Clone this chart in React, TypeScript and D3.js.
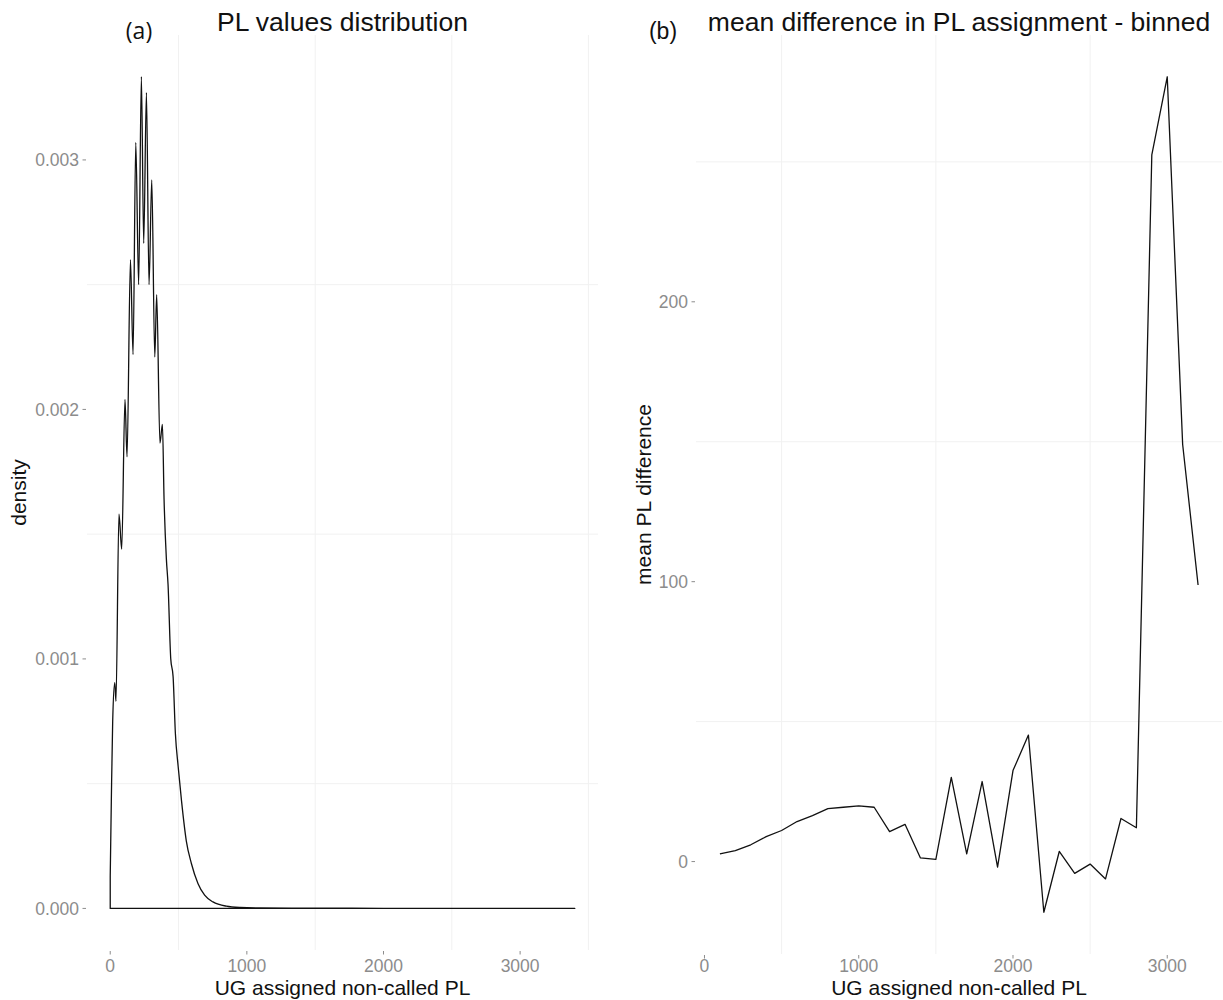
import React, { useEffect } from "react";
import * as d3 from "d3";

// ---------- data ----------
// (a) density of UG assigned non-called PL
const densityX = [0, 8, 18, 33, 42, 64, 84, 108, 123, 148, 167, 187, 208, 228, 245, 265, 284, 304, 326, 340, 364, 382, 394, 411, 423, 443, 460, 477, 497, 522, 557, 594, 642, 691, 752, 850, 950, 1100, 1500, 2000, 2500, 3000, 3400];
const densityY = [0.00013, 0.00043, 0.00075, 0.000905, 0.00083, 0.00158, 0.00144, 0.00204, 0.00181, 0.0026, 0.00222, 0.00307, 0.0025, 0.003334, 0.002666, 0.00327, 0.0025, 0.00292, 0.00221, 0.00246, 0.001865, 0.00194, 0.00164, 0.0014, 0.0013, 0.001, 0.00093, 0.0007, 0.00057, 0.00043, 0.00027, 0.00018, 0.0001, 0.000053, 0.000026, 0.000009, 0.000004, 0.000002, 0.000001, 0.0000005, 0.0000005, 0.0000003, 0.0000002];

// (b) mean PL difference per bin
const binX = [100, 200, 300, 400, 500, 600, 700, 800, 900, 1000, 1100, 1200, 1300, 1400, 1500, 1600, 1700, 1800, 1900, 2000, 2100, 2200, 2300, 2400, 2500, 2600, 2700, 2800, 2900, 3000, 3100, 3200];
const binMean = [2.75, 3.9, 6.0, 8.9, 11.1, 14.3, 16.4, 18.9, 19.4, 19.9, 19.4, 10.7, 13.3, 1.3, 0.8, 30.1, 2.75, 28.6, -2.0, 32.5, 45.2, -18.1, 3.6, -4.2, -0.9, -6.2, 15.4, 12.1, 252.5, 280.4, 149, 98.8];

// ticks and grid
const leftXTicks = [0, 1000, 2000, 3000];
const leftYTicks = [0, 0.001, 0.002, 0.003];
const leftXMinor = [500, 1500, 2500, 3500];
const leftYMinor = [0.0005, 0.0015, 0.0025];
const rightXTicks = [0, 1000, 2000, 3000];
const rightYTicks = [0, 100, 200];
const rightXMinor = [500, 1500, 2500];
const rightYMinor = [50, 150, 250];

const titleA = "PL values distribution";
const titleB = "mean difference in PL assignment - binned";
const xTitle = "UG assigned non-called PL";
const yTitleA = "density";
const yTitleB = "mean PL difference";

const FONT = "'Liberation Sans', Arial, Helvetica, sans-serif";
const TICK_COL = "#8c8c8c";
const GRID_COL = "#f1f1f1";

function expand(ext: [number, number], f = 0.05): [number, number] {
  const d = (ext[1] - ext[0]) * f;
  return [ext[0] - d, ext[1] + d];
}

type PanelProps = {
  xs: d3.ScaleLinear<number, number>;
  ys: d3.ScaleLinear<number, number>;
  xTicks: number[];
  yTicks: number[];
  xMinor: number[];
  yMinor: number[];
  yFmt: (v: number) => string;
  title: string;
  yTitle: string;
  yTitleX: number;
  tag: string;
  tagX: number;
  tagFont: string;
  path: string;
};

function Panel(p: PanelProps) {
  const [x0, x1] = p.xs.range();
  const [yb, yt] = p.ys.range();
  const cx = (x0 + x1) / 2;
  const cy = (yb + yt) / 2;
  return (
    <g>
      {p.yMinor.map((v) => (
        <line key={"gy" + v} x1={x0} x2={x1} y1={p.ys(v)} y2={p.ys(v)} stroke={GRID_COL} strokeWidth={1} />
      ))}
      {p.xMinor.map((v) => (
        <line key={"gx" + v} x1={p.xs(v)} x2={p.xs(v)} y1={yt} y2={yb} stroke={GRID_COL} strokeWidth={1} />
      ))}
      <path d={p.path} fill="none" stroke="#111" strokeWidth={1.3} strokeLinejoin="round" />
      {p.yTicks.map((v) => (
        <g key={"ty" + v}>
          <line x1={x0 - 4.5} x2={x0 - 1} y1={p.ys(v)} y2={p.ys(v)} stroke={TICK_COL} strokeWidth={1} />
          <text x={x0 - 8} y={p.ys(v)} dy="0.36em" textAnchor="end" fontSize={17.5} fill={TICK_COL} fontFamily={FONT}>
            {p.yFmt(v)}
          </text>
        </g>
      ))}
      {p.xTicks.map((v) => (
        <g key={"tx" + v}>
          <line x1={p.xs(v)} x2={p.xs(v)} y1={yb + 1} y2={yb + 4.5} stroke={TICK_COL} strokeWidth={1} />
          <text x={p.xs(v)} y={972} textAnchor="middle" fontSize={17.5} fill={TICK_COL} fontFamily={FONT}>
            {String(v)}
          </text>
        </g>
      ))}
      <text x={cx} y={995} textAnchor="middle" fontSize={21} fill="#111" fontFamily={FONT}>
        {xTitle}
      </text>
      <text
        transform={`translate(${p.yTitleX},${cy}) rotate(-90)`}
        textAnchor="middle"
        fontSize={21}
        fill="#111"
        fontFamily={FONT}
      >
        {p.yTitle}
      </text>
      <text x={cx} y={31} textAnchor="middle" fontSize={26.5} fill="#111" fontFamily={FONT}>
        {p.title}
      </text>
      <text x={p.tagX} y={39} textAnchor="middle" fontSize={23} fill="#111" fontFamily={p.tagFont}>
        {p.tag}
      </text>
    </g>
  );
}

export default function App() {
  useEffect(() => {
    document.body.style.margin = "0";
  }, []);

  // ----- panel (a) -----
  const xa = d3
    .scaleLinear()
    .domain(expand(d3.extent(densityX) as [number, number]))
    .range([87, 598]);
  const ya = d3
    .scaleLinear()
    .domain(expand([0, d3.max(densityY) as number]))
    .range([950, 35]);
  const pts: [number, number][] = densityX.map((x, i) => [x, densityY[i]]);
  const lineA = d3
    .line<[number, number]>()
    .x((d) => xa(d[0]))
    .y((d) => ya(d[1]))
    .curve(d3.curveMonotoneX);
  const xMin = densityX[0];
  const xMax = densityX[densityX.length - 1];
  const curveStr = (lineA(pts) || "").replace(/^M/, "L");
  const pathA = `M${xa(xMin)},${ya(0)}${curveStr}L${xa(xMax)},${ya(0)}Z`;

  // ----- panel (b) -----
  const xb = d3
    .scaleLinear()
    .domain(expand(d3.extent(binX) as [number, number]))
    .range([696, 1222]);
  const yb = d3
    .scaleLinear()
    .domain(expand(d3.extent(binMean) as [number, number]))
    .range([954, 35]);
  const lineB = d3
    .line<number>()
    .x((_, i) => xb(binX[i]))
    .y((d) => yb(d));
  const pathB = lineB(binMean) || "";

  return (
    <svg width={1223} height={1000} style={{ display: "block", background: "#fff" }}>
      <rect width={1223} height={1000} fill="#fff" />
      <Panel
        xs={xa}
        ys={ya}
        xTicks={leftXTicks}
        yTicks={leftYTicks}
        xMinor={leftXMinor}
        yMinor={leftYMinor}
        yFmt={d3.format(".3f")}
        title={titleA}
        yTitle={yTitleA}
        yTitleX={26}
        tag="(a)"
        tagX={139}
        tagFont="'Open Sans', 'Noto Sans', sans-serif"
        path={pathA}
      />
      <Panel
        xs={xb}
        ys={yb}
        xTicks={rightXTicks}
        yTicks={rightYTicks}
        xMinor={rightXMinor}
        yMinor={rightYMinor}
        yFmt={d3.format("d")}
        title={titleB}
        yTitle={yTitleB}
        yTitleX={651}
        tag="(b)"
        tagX={663}
        tagFont={FONT}
        path={pathB}
      />
    </svg>
  );
}
